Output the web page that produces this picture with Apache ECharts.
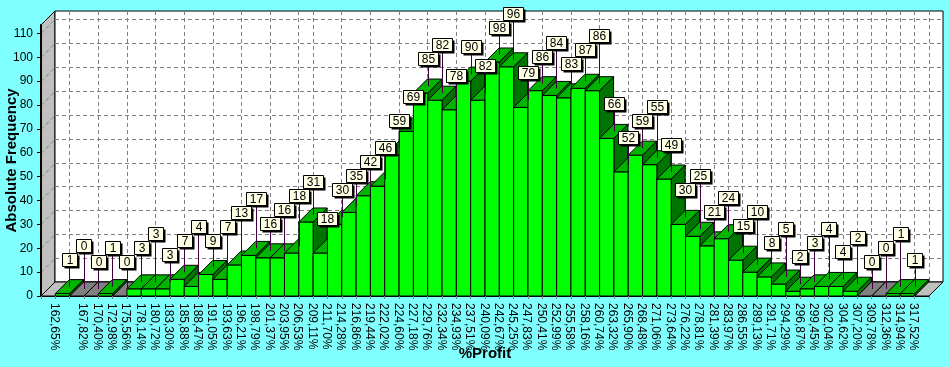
<!DOCTYPE html>
<html><head><meta charset="utf-8">
<script src="https://cdn.jsdelivr.net/npm/echarts@6/dist/echarts.min.js"></script>
<style>html,body{margin:0;padding:0;background:#80ffff;}#c{width:949px;height:367px;}</style>
</head><body><div id="c"></div>
<script>
// ---- data ----
const tickLabels = ['162,65%','167,82%','170,40%','172,98%','175,56%','178,14%','180,72%','183,30%','185,88%','188,47%',
  '191,05%','193,63%','196,21%','198,79%','201,37%','203,95%','206,53%','209,11%','211,70%','214,28%',
  '216,86%','219,44%','222,02%','224,60%','227,18%','229,76%','232,34%','234,93%','237,51%','240,09%',
  '242,67%','245,25%','247,83%','250,41%','252,99%','255,58%','258,16%','260,74%','263,32%','265,90%',
  '268,48%','271,06%','273,64%','276,22%','278,81%','281,39%','283,97%','286,55%','289,13%','291,71%',
  '294,29%','296,87%','299,45%','302,04%','304,62%','307,20%','309,78%','312,36%','314,94%','317,52%'];
const frequencies = [1,0,0,1,0,3,3,3,7,4, 9,7,13,17,16,16,18,31,18,30,
  35,42,46,59,69,85,82,78,90,82, 98,96,79,86,84,83,87,86,66,52,
  59,55,49,30,25,21,24,15,10,8, 5,2,3,4,4,2,0,0,1,1];
const yTicks = [0,10,20,30,40,50,60,70,80,90,100,110];
const xTitle = '%Profit';
const yTitle = 'Absolute Frequency';

// ---- axis categories: one leading labelled slot, bars, one trailing slot ----
const categories = [tickLabels[0], ''].concat(tickLabels.slice(1), ['']);
const barData = frequencies.map((v, i) => [i + 1, v]);

const D = 14;              // 3D depth in px
const FRONT = '#00ff00', TOP = '#00b400', SIDE = '#007400', ZERO = '#808080';
const FONT = '"Liberation Sans", Arial, sans-serif';
const PIN = 20, BOX_H = 13;

let labelPos = [];
function computeLabels(api) {
  labelPos = [];
  let prev = null;
  for (let i = 0; i < frequencies.length; i++) {
    const c = api.coord([i + 1, frequencies[i]]);
    const ax = c[0] + D / 2, ay = c[1] - D / 2;
    let bottom = ay - PIN;
    let top = bottom - BOX_H - 1;
    if (prev && bottom > prev.top + 0.5 && top < prev.bottom - 0.5) {
      bottom = prev.top;
      top = bottom - BOX_H - 1;
    }
    prev = { top, bottom };
    labelPos.push({ ax, ay, bottom, top });
  }
}

// back-wall vertical grid follows the reference's pattern of slot boundaries
function gridAt(k) {
  if (k <= 17) return k % 2 === 1;
  if (k <= 40) return k % 2 === 0;
  return true;
}

function renderWalls(params, api) {
  const cs = params.coordSys;
  const L = cs.x, R = cs.x + cs.width, T = cs.y, B = cs.y + cs.height;
  const w = api.size([1, 0])[0];
  const ch = [];
  ch.push({ type: 'polygon', shape: { points: [[L, T], [L + D, T - D], [L + D, B - D], [L, B]] },
    style: { fill: '#c0c0c0', stroke: '#000', lineWidth: 1 } });
  ch.push({ type: 'rect', shape: { x: L + D, y: T - D, width: R - L, height: B - T },
    style: { fill: '#ffffff', stroke: '#000', lineWidth: 1 } });
  ch.push({ type: 'polygon', shape: { points: [[L, B], [L + D, B - D], [R + D, B - D], [R, B]] },
    style: { fill: '#c0c0c0', stroke: '#000', lineWidth: 1 } });
  const dash = { stroke: '#808080', lineWidth: 1, lineDash: [4, 3] };
  yTicks.forEach(v => {
    if (v === 0) return;
    const y = Math.round(api.coord([0, v])[1]) + 0.5;
    ch.push({ type: 'line', shape: { x1: L + D, y1: y - D, x2: R + D, y2: y - D }, style: dash });
    ch.push({ type: 'line', shape: { x1: L, y1: y, x2: L + D, y2: y - D }, style: dash });
  });
  for (let k = 1; k < categories.length; k++) {
    if (!gridAt(k)) continue;
    const x = Math.round(L + k * w) + 0.5 + D;
    ch.push({ type: 'line', shape: { x1: x, y1: T - D, x2: x, y2: B - D }, style: dash });
  }
  return { type: 'group', children: ch };
}

function renderBar(params, api) {
  if (params.dataIndex === 0 || labelPos.length !== frequencies.length) computeLabels(api);
  const slot = api.value(0), v = api.value(1);
  const base = api.coord([slot, 0]);
  const topP = api.coord([slot, v]);
  const w = api.size([1, 0])[0];
  const x0 = base[0] - w / 2, x1 = base[0] + w / 2;
  const yb = base[1], yt = topP[1];
  const ch = [];
  const line = { stroke: '#000', lineWidth: 1 };
  if (v > 0) {
    ch.push({ type: 'polygon', shape: { points: [[x1, yt], [x1 + D, yt - D], [x1 + D, yb - D], [x1, yb]] },
      style: Object.assign({ fill: SIDE }, line) });
    ch.push({ type: 'rect', shape: { x: x0, y: yt, width: w, height: yb - yt },
      style: Object.assign({ fill: FRONT }, line) });
    ch.push({ type: 'polygon', shape: { points: [[x0, yt], [x1, yt], [x1 + D, yt - D], [x0 + D, yt - D]] },
      style: Object.assign({ fill: TOP }, line) });
  } else {
    ch.push({ type: 'polygon', shape: { points: [[x0, yb], [x1, yb], [x1 + D, yb - D], [x0 + D, yb - D]] },
      style: Object.assign({ fill: ZERO }, line) });
  }
  const lp = labelPos[params.dataIndex];
  const txt = String(v);
  const bw = txt.length > 1 ? 20 : 15;
  const bx = Math.round(lp.ax - bw / 2) + 0.5, by = Math.round(lp.top) + 0.5;
  const px = Math.round(lp.ax) + 0.5;
  ch.push({ type: 'line', z2: 50, shape: { x1: px, y1: by + BOX_H, x2: px, y2: lp.ay },
    style: { stroke: '#400040', lineWidth: 1 } });
  ch.push({ type: 'rect', z2: 60, shape: { x: bx + 2, y: by + 2, width: bw, height: BOX_H },
    style: { fill: '#000000' } });
  ch.push({ type: 'rect', z2: 61, shape: { x: bx, y: by, width: bw, height: BOX_H },
    style: { fill: '#ffffe6', stroke: '#000', lineWidth: 1 } });
  ch.push({ type: 'text', z2: 62, style: { text: txt, x: bx + bw / 2, y: by + BOX_H / 2 + 0.5,
    align: 'center', verticalAlign: 'middle', fill: '#000', font: '12px ' + FONT } });
  return { type: 'group', children: ch };
}

const chart = echarts.init(document.getElementById('c'));
chart.setOption({
  backgroundColor: '#80ffff',
  animation: false,
  grid: { left: 41, right: 20, top: 25, bottom: 71, containLabel: false, outerBoundsMode: 'none' },
  xAxis: {
    type: 'category', data: categories, boundaryGap: true, z: 10,
    name: xTitle, nameLocation: 'middle', nameGap: 50, nameMoveOverlap: false,
    nameTextStyle: { fontFamily: FONT, fontSize: 15, fontWeight: 'bold', color: '#000' },
    axisLine: { lineStyle: { color: '#000', width: 1 } },
    axisTick: { show: true, interval: 0, length: 3, lineStyle: { color: '#808080' } },
    axisLabel: { interval: 0, rotate: -90, margin: 7, verticalAlign: 'bottom', fontFamily: FONT, fontSize: 12, color: '#000' },
    splitLine: { show: false }
  },
  yAxis: {
    type: 'value', min: 0, max: 113.5, interval: 10, z: 10,
    name: yTitle, nameLocation: 'middle', nameGap: 22, nameRotate: 90, nameMoveOverlap: false,
    nameTextStyle: { fontFamily: FONT, fontSize: 15, fontWeight: 'bold', color: '#000' },
    axisLine: { show: true, lineStyle: { color: '#000', width: 2 } },
    axisTick: { show: true, length: 4, customValues: yTicks, lineStyle: { color: '#000' } },
    axisLabel: { margin: 8, customValues: yTicks, fontFamily: FONT, fontSize: 12, color: '#000',
      formatter: v => (v % 10 === 0 ? String(v) : '') },
    splitLine: { show: false }
  },
  series: [
    { type: 'custom', z: 1, clip: false, renderItem: renderWalls, data: [[0, 0]], encode: { x: 0, y: 1 }, silent: true },
    { type: 'custom', z: 2, clip: false, renderItem: renderBar, data: barData, encode: { x: 0, y: 1 } }
  ]
});
</script></body></html>
